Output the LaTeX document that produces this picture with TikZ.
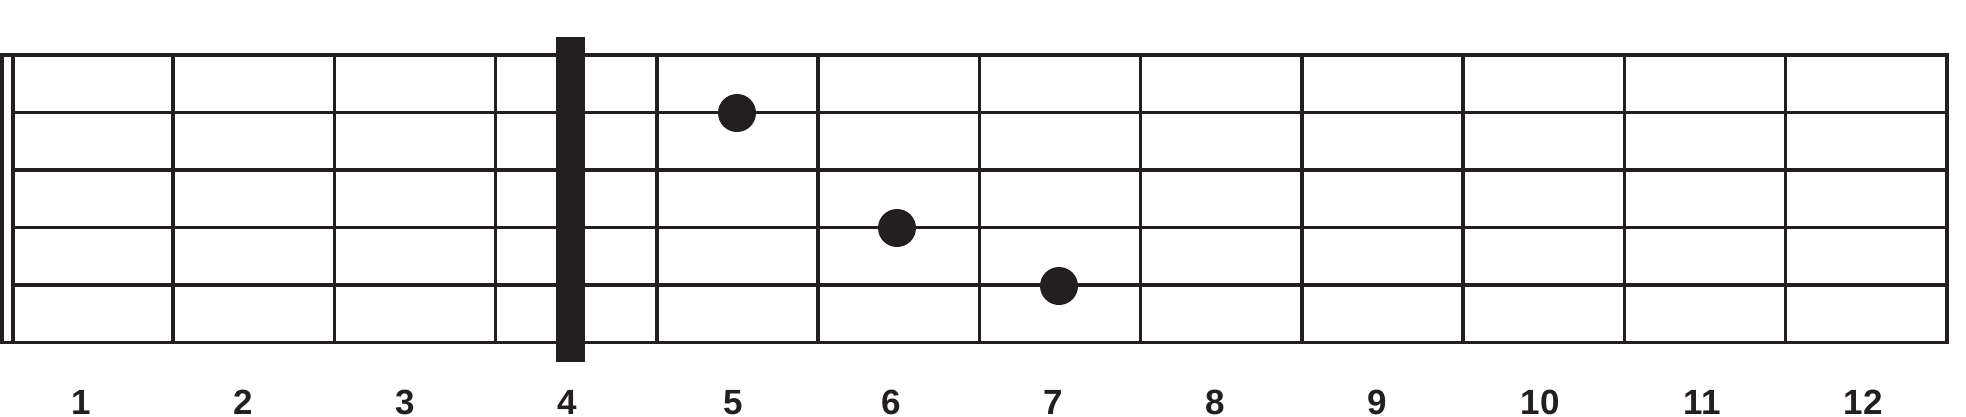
\documentclass[tikz,border=0pt]{standalone}
\usepackage{fontspec}
\setmainfont{Liberation Sans}
\definecolor{ink}{HTML}{231F20}
\begin{document}
\begin{tikzpicture}[x=1pt,y=-1pt,
  rule/.style={draw=ink,line width=3.5pt},
  nutbar/.style={fill=ink,draw=none,inner sep=0pt,minimum width=29pt,minimum height=325pt,rectangle},
  fingerdot/.style={circle,fill=ink,draw=none,inner sep=0pt,minimum size=38pt},
  fretnum/.style={anchor=base,inner sep=0pt,text=ink,font=\fontsize{35}{35}\selectfont\bfseries}]
\useasboundingbox (0,0) rectangle (1966,416);
\clip (0,0) rectangle (1966,416);
% frame corners
\coordinate (TL) at (0,55);
\coordinate (TR) at (1947,55);
\coordinate (BR) at (1947,342.5);
\coordinate (BL) at (0,342.5);
% strings
\foreach \i/\y in {2/112.5,3/170,4/227.5,5/285} {
  \coordinate (sL\i) at (13,\y);
  \coordinate (sR\i) at (1947,\y);
  \draw[rule] (sL\i) -- (sR\i);
}
% frame
\draw[rule,line cap=rect] (TL) -- (TR) -- (BR) -- (BL);
\coordinate (edgeT) at (2,55);
\coordinate (edgeB) at (2,342.5);
\draw[rule] (edgeT) -- (edgeB);
\coordinate (innerT) at (13,55);
\coordinate (innerB) at (13,342.5);
\draw[rule] (innerT) -- (innerB);
% frets
\foreach \k in {1,...,11} {
  \pgfmathsetmacro{\fx}{173+161.27*(\k-1)}
  \coordinate (fT\k) at (\fx,55);
  \coordinate (fB\k) at (\fx,342.5);
  \draw[rule] (fT\k) -- (fB\k);
}
% thick bar
\node[nutbar] (nut) at (570,199) {};
% finger dots
\node[fingerdot] (d1) at (737,113) {};
\node[fingerdot] (d2) at (897,228) {};
\node[fingerdot] (d3) at (1059,286) {};
% fret numbers
\foreach \n/\x in {1/81,2/243,3/405,4/567,5/733,6/891.5,7/1053,8/1215,9/1377,10/1540,11/1702,12/1863} {
  \node[fretnum] (num\n) at (\x,414) {\n};
}
\end{tikzpicture}
\end{document}
